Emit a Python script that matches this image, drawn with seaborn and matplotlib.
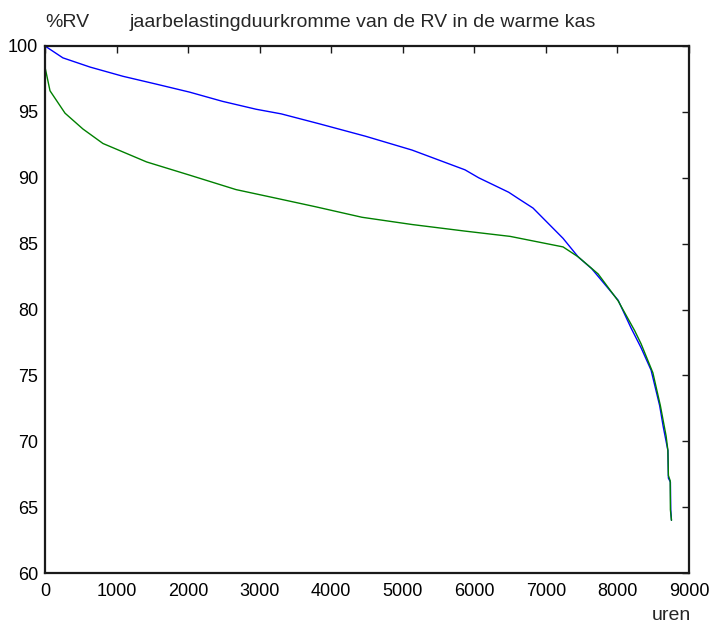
import matplotlib
matplotlib.use("Agg")
import matplotlib.pyplot as plt
import seaborn as sns
import pandas as pd

# Load duration curves of relative humidity (%RV), hours sorted by descending RV
uren_blauw = [0, 250, 630, 1090, 1560, 2020, 2480, 2950, 3300, 3830, 4480, 5130,
              5870, 6060, 6480, 6620, 6820, 7240, 7450, 7640, 8010, 8190, 8330,
              8470, 8590, 8640, 8705, 8712, 8740, 8745, 8755]
rv_blauw = [100.0, 99.1, 98.4, 97.7, 97.1, 96.5, 95.8, 95.2, 94.85, 94.1, 93.15, 92.1,
            90.6, 90.0, 88.9, 88.4, 87.7, 85.4, 84.0, 83.1, 80.7, 78.6, 77.1,
            75.4, 72.7, 71.1, 69.3, 67.2, 66.9, 64.8, 64.0]

uren_groen = [0, 70, 280, 530, 810, 1420, 2020, 2670, 3270, 3780, 4430, 5130,
              5870, 6500, 7240, 7450, 7730, 8010, 8240, 8330, 8495, 8600, 8680,
              8705, 8712, 8737, 8740, 8755]
rv_groen = [98.4, 96.6, 94.9, 93.7, 92.6, 91.2, 90.2, 89.1, 88.4, 87.8, 87.0, 86.45,
            85.95, 85.55, 84.75, 84.0, 82.7, 80.65, 78.4, 77.4, 75.2, 72.7, 70.4,
            69.3, 67.4, 67.0, 64.8, 64.0]

x_ticks = list(range(0, 9001, 1000))
y_ticks = list(range(60, 101, 5))

sns.set_theme(style="white")
plt.rcParams['font.family'] = ['Liberation Sans', 'DejaVu Sans']

W, H = 712, 624
fig = plt.figure(figsize=(W / 100, H / 100), dpi=100)
fig.patch.set_facecolor("white")
left, right, top, bottom = 45, 689, 46, 573
ax = fig.add_axes([left / W, 1 - bottom / H, (right - left) / W, (bottom - top) / H])

blauw = pd.DataFrame({"uren": uren_blauw, "rv": rv_blauw})
groen = pd.DataFrame({"uren": uren_groen, "rv": rv_groen})
sns.lineplot(data=blauw, x="uren", y="rv", color=(0, 0, 1), lw=1.0,
             estimator=None, sort=False, ax=ax)
sns.lineplot(data=groen, x="uren", y="rv", color=(0, 0.5, 0), lw=1.0,
             estimator=None, sort=False, ax=ax)

ax.set_xlim(0, 9000)
ax.set_ylim(60, 100)
ax.set_xticks(x_ticks)
ax.set_yticks(y_ticks)
ax.set_xlabel("")
ax.set_ylabel("")
ax.set_facecolor("white")
for s in ax.spines.values():
    s.set_color("#1a1a1a")
    s.set_linewidth(1.6)
ax.tick_params(direction="in", top=True, right=True, length=5, width=1,
               colors="#1a1a1a", labelcolor="black", labelsize=13)
ax.tick_params(axis="x", pad=7)
ax.tick_params(axis="y", pad=5)

fig.text(363 / W, 1 - 27 / H, "jaarbelastingduurkromme van de RV in de warme kas",
         ha="center", va="baseline", fontsize=14)
fig.text(45 / W, 1 - 27 / H, "%RV", ha="left", va="baseline", fontsize=14)
fig.text(671 / W, 1 - 620 / H, "uren", ha="center", va="baseline", fontsize=14)

fig.savefig("out.png", dpi=100, facecolor="white")
